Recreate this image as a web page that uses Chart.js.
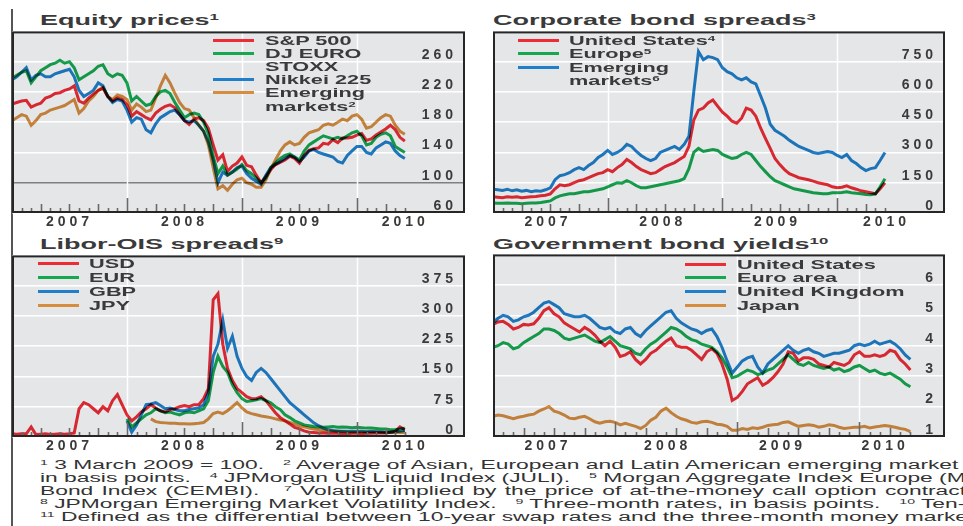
<!DOCTYPE html>
<html>
<head>
<meta charset="utf-8">
<title>Financial market indicators</title>
<script src="https://cdn.jsdelivr.net/npm/chart.js@4.4.1/dist/chart.umd.min.js"></script>
<style>
  body { margin: 0; width: 963px; height: 526px; overflow: hidden; position: relative; background: #fff;
         font-family: "Liberation Sans", Arial, sans-serif; color: #333; }
  canvas { position: absolute; }
  .txt { position: absolute; white-space: nowrap; transform-origin: 0 50%; }
  .title { font-size: 15px; font-weight: bold; line-height: 16px; transform: scaleX(1.8); color: #3a3a3a; }
  .leg { font-size: 13px; font-weight: bold; line-height: 13px; transform: scaleX(1.67); color: #3a3a3a; }
  .swatch { position: absolute; height: 3px; width: 41px; }
  .note { font-size: 12px; line-height: 13px; transform: scaleX(1.9); color: #333; }
  sup { font-size: 62%; line-height: 0; vertical-align: 0.5em; }
  #frame { position: absolute; left: 11px; top: 9px; width: 2px; height: 517px; background: #555; }
</style>
</head>
<body>
<div id="frame"></div>
<canvas id="equity" width="453" height="202" style="left:12px;top:31px"></canvas>
<canvas id="corporate" width="452" height="202" style="left:493px;top:31px"></canvas>
<canvas id="libor" width="453" height="202" style="left:12px;top:255px"></canvas>
<canvas id="govt" width="452" height="203" style="left:493px;top:254px"></canvas>

<div class="txt title" style="left:40px;top:12px">Equity prices<sup>1</sup></div>
<div class="txt title" style="left:493px;top:12px">Corporate bond spreads<sup>3</sup></div>
<div class="txt title" style="left:40px;top:236px">Libor-OIS spreads<sup>9</sup></div>
<div class="txt title" style="left:493px;top:236px">Government bond yields<sup>10</sup></div>

<div class="txt note" style="left:40px;top:459px"><sup>1</sup> 3 March 2009 = 100. &nbsp;&nbsp;<sup>2</sup> Average of Asian, European and Latin American emerging market equity indices.</div>
<div class="txt note" style="left:40px;top:472px">in basis points. &nbsp;&nbsp;<sup>4</sup> JPMorgan US Liquid Index (JULI). &nbsp;&nbsp;<sup>5</sup> Morgan Aggregate Index Europe (MAGGIE).</div>
<div class="txt note" style="left:40px;top:485px;word-spacing:1px">Bond Index (CEMBI). &nbsp;&nbsp;<sup>7</sup> Volatility implied by the price of at-the-money call option contracts.</div>
<div class="txt note" style="left:40px;top:498px"><sup>8</sup> JPMorgan Emerging Market Volatility Index. &nbsp;&nbsp;<sup>9</sup> Three-month rates, in basis points. &nbsp;&nbsp;<sup>10</sup> Ten-year, in per cent.</div>
<div class="txt note" style="left:40px;top:511px"><sup>11</sup> Defined as the differential between 10-year swap rates and the three-month money market rates.</div>

<script>
// observation dates: 1st and 16th of each month, Jan 2007 - Jun 2010
const dates = [];
for (let y = 2007; y <= 2010; y++) {
    for (let m = 1; m <= 12; m++) {
        for (const d of ['01', '16']) {
            const s = y + '-' + String(m).padStart(2, '0') + '-' + d;
            if (s <= '2010-06-01') dates.push(s);
        }
    }
}

// Equity prices, 3 March 2009 = 100
const sp500 = [
    204, 206, 208, 209, 200, 203, 205, 212, 214, 218, 219, 222, 224, 228, 208, 205, 212, 217, 222, 225, 214, 208, 212, 210,
    203, 188, 194, 190, 186, 183, 192, 197, 201, 203, 199, 190, 182, 177, 184, 186, 182, 172, 150, 130, 137, 115, 122, 126,
    134, 123, 121, 110, 100, 108, 117, 124, 127, 130, 135, 132, 126, 136, 143, 145, 146, 152, 151, 157, 153, 159, 159, 160,
    163, 165, 156, 158, 163, 167, 171, 176, 170, 160, 155
];
const euroStoxx = [
    238, 242, 246, 248, 232, 240, 248, 252, 256, 258, 262, 258, 260, 252, 236, 240, 244, 248, 254, 256, 244, 240, 244, 242,
    232, 208, 214, 208, 202, 204, 214, 220, 222, 218, 206, 196, 186, 190, 192, 190, 180, 165, 135, 112, 122, 110, 114, 118,
    124, 116, 112, 106, 100, 106, 120, 126, 132, 136, 138, 134, 130, 142, 150, 154, 158, 162, 160, 158, 160, 158, 162, 166,
    168, 162, 150, 152, 160, 164, 166, 162, 148, 144, 140
];
const nikkei = [
    236, 240, 246, 252, 236, 242, 244, 240, 240, 244, 246, 248, 250, 240, 222, 214, 218, 222, 232, 228, 214, 206, 210, 208,
    196, 180, 186, 184, 170, 166, 178, 186, 190, 194, 196, 190, 182, 180, 182, 176, 168, 154, 130, 100, 114, 110, 114, 120,
    122, 112, 106, 102, 98, 110, 120, 124, 128, 132, 136, 134, 128, 134, 142, 144, 140, 138, 136, 134, 128, 126, 136, 142,
    148, 148, 140, 138, 146, 150, 154, 152, 142, 136, 132
];
const emergingEq = [
    182, 186, 190, 188, 176, 182, 190, 192, 196, 198, 200, 202, 206, 210, 192, 198, 208, 214, 222, 226, 214, 210, 216, 214,
    210, 196, 204, 200, 194, 196, 212, 228, 242, 232, 218, 206, 198, 196, 186, 176, 168, 150, 120, 92, 96, 90, 98, 104,
    106, 100, 98, 94, 94, 104, 118, 130, 142, 150, 154, 150, 152, 160, 166, 168, 170, 176, 178, 176, 180, 184, 182, 188,
    190, 184, 172, 174, 180, 186, 190, 188, 176, 168, 164
];

// Corporate bond spreads, basis points
const corpUS = [
    80, 78, 76, 80, 78, 80, 76, 78, 80, 82, 85, 88,
    95, 120, 140, 135, 140, 150, 160, 165, 175, 185, 195, 200,
    215, 205, 225, 240, 265, 250, 230, 215, 205, 195, 200, 215,
    230, 240, 250, 265, 280, 330, 460, 510, 520, 545, 560, 530,
    500, 480, 455, 445, 470, 520, 510, 480, 420, 370, 320, 270,
    240, 215, 195, 185, 175, 170, 165, 158, 150, 145, 140, 130,
    125, 128, 135, 125, 118, 110, 105, 100, 95, 120, 150
];
const corpEurope = [
    50, 48, 48, 50, 48, 48, 46, 48, 50, 50, 52, 56,
    60, 75, 85, 90, 95, 95, 100, 105, 105, 110, 115, 120,
    130, 140, 150, 148, 160, 150, 135, 125, 125, 130, 135, 140,
    145, 150, 155, 160, 170, 220, 300, 320, 305, 310, 315, 310,
    290, 280, 270, 275, 290, 300, 290, 260, 230, 205, 180, 160,
    150, 140, 130, 120, 115, 110, 105, 100, 98, 95, 95, 100,
    100, 102, 105, 100, 98, 95, 92, 90, 95, 130, 170
];
const corpEM = [
    118, 115, 112, 118, 110, 115, 108, 112, 105, 110, 108, 115,
    125, 165, 185, 190, 200, 215, 225, 215, 235, 250, 275, 290,
    310, 290, 300, 315, 340, 330, 305, 285, 270, 260, 270, 300,
    310, 320, 330, 315, 340, 380, 600, 800, 760, 775, 770, 760,
    720, 700, 690, 670, 660, 670, 650, 640, 580, 520, 440, 410,
    395, 380, 360, 345, 330, 320, 310, 300, 295, 300, 305, 300,
    285, 275, 290, 260, 245, 225, 210, 220, 225, 260, 300
];

// Libor-OIS spreads, three-month, basis points
const usd = [
    8, 7, 8, 8, 25, 6, 7, 8, 6, 7, 8, 7,
    8, 10, 70, 85, 80, 70, 60, 75, 65, 90, 105, 80,
    55, 40, 50, 62, 70, 80, 72, 65, 62, 68, 70, 75,
    78, 75, 80, 80, 95, 120, 340, 355, 230, 170, 140, 120,
    110, 100, 95, 95, 100, 90, 75, 60, 48, 40, 32, 24,
    20, 15, 12, 11, 10, 10, 9, 9, 9, 8, 8, 9,
    9, 8, 9, 9, 10, 10, 10, 12, 14, 25, 18
];
const eur = [
    null, null, null, null, null, null, null, null, null, null, null, null,
    null, null, null, null, null, null, null, null, null, null, null, null,
    45, 25, 35, 45, 55, 60, 70, 65, 60, 62, 58, 55,
    60, 62, 60, 65, 70, 90, 160, 200, 175, 160, 130, 110,
    95, 88, 90, 92, 95, 90, 85, 75, 68, 55, 48, 40,
    35, 30, 28, 26, 25, 24, 25, 26, 24, 25, 24, 23,
    24, 23, 22, 22, 21, 20, 20, 18, 18, 20, 22
];
const gbp = [
    null, null, null, null, null, null, null, null, null, null, null, null,
    null, null, null, null, null, null, null, null, null, null, null, null,
    40, 12, 30, 55, 80, 82, 85, 78, 70, 72, 68, 65,
    65, 68, 70, 72, 80, 110, 200, 230, 290, 220, 250, 200,
    170, 150, 140, 160, 170, 160, 145, 130, 115, 100, 85, 75,
    65, 55, 45, 35, 28, 22, 18, 16, 15, 14, 14, 14,
    14, 14, 13, 14, 13, 13, 12, 12, 13, 14, 16
];
const jpy = [
    null, null, null, null, null, null, null, null, null, null, null, null,
    null, null, null, null, null, null, null, null, null, null, null, null,
    null, null, null, null, null, 45, 38, 36, 35, 34, 34, 33,
    33, 32, 33, 34, 36, 45, 58, 62, 58, 65, 75, 85,
    72, 62, 58, 55, 52, 50, 48, 45, 42, 40, 36, 32,
    28, 25, 22, 20, 18, 16, 15, 14, 13, 13, 12, 12,
    12, 12, 12, 12, 12, 11, 11, 11, 11, 11, 11
];

// Government bond yields, ten-year, per cent
const us10y = [
    4.70, 4.78, 4.80, 4.70, 4.55, 4.60, 4.70, 4.68, 4.72, 4.90, 5.15, 5.25, 5.05, 4.95, 4.75, 4.65, 4.55, 4.45, 4.60, 4.50, 4.35, 4.15, 4.00, 4.15,
    3.95, 3.65, 3.70, 3.80, 3.55, 3.40, 3.55, 3.75, 3.85, 4.00, 4.15, 4.25, 4.00, 3.95, 3.95, 3.85, 3.70, 3.55, 3.80, 3.90, 3.75, 3.40, 2.90, 2.20,
    2.30, 2.50, 2.75, 2.85, 2.95, 2.70, 2.80, 2.95, 3.15, 3.40, 3.80, 3.75, 3.50, 3.60, 3.60, 3.55, 3.40, 3.35, 3.30, 3.45, 3.40, 3.35, 3.45, 3.70,
    3.80, 3.65, 3.65, 3.70, 3.65, 3.70, 3.85, 3.80, 3.55, 3.40, 3.20
];
const euro10y = [
    3.95, 4.00, 4.10, 4.05, 3.90, 3.95, 4.10, 4.20, 4.30, 4.40, 4.55, 4.55, 4.50, 4.40, 4.25, 4.20, 4.25, 4.30, 4.35, 4.25, 4.15, 4.10, 4.20, 4.30,
    4.15, 4.00, 3.95, 3.90, 3.75, 3.70, 3.90, 4.05, 4.15, 4.30, 4.45, 4.60, 4.55, 4.45, 4.30, 4.20, 4.15, 4.05, 4.00, 3.95, 3.80, 3.60, 3.30, 2.95,
    3.00, 3.10, 3.20, 3.15, 3.05, 3.10, 3.20, 3.25, 3.40, 3.55, 3.70, 3.55, 3.40, 3.35, 3.45, 3.35, 3.30, 3.25, 3.30, 3.20, 3.25, 3.15, 3.20, 3.30,
    3.35, 3.25, 3.15, 3.20, 3.10, 3.05, 3.10, 3.00, 2.90, 2.75, 2.65
];
const uk10y = [
    4.75, 4.90, 5.00, 4.95, 4.80, 4.85, 4.95, 5.00, 5.10, 5.25, 5.40, 5.45, 5.35, 5.25, 5.05, 5.00, 4.95, 4.95, 5.00, 4.90, 4.75, 4.60, 4.55, 4.60,
    4.45, 4.40, 4.55, 4.60, 4.40, 4.30, 4.50, 4.65, 4.80, 4.95, 5.10, 5.15, 4.90, 4.75, 4.65, 4.55, 4.50, 4.40, 4.50, 4.55, 4.30, 3.95, 3.50, 3.10,
    3.30, 3.50, 3.60, 3.65, 3.30, 3.10, 3.40, 3.55, 3.70, 3.85, 4.00, 3.85, 3.75, 3.85, 3.90, 3.80, 3.75, 3.65, 3.70, 3.75, 3.75, 3.80, 3.85, 4.00,
    4.05, 4.00, 4.05, 4.15, 4.05, 4.10, 4.15, 4.05, 3.90, 3.70, 3.55
];
const jp10y = [
    1.68, 1.72, 1.70, 1.65, 1.60, 1.65, 1.68, 1.72, 1.75, 1.85, 1.92, 2.00, 1.85, 1.80, 1.72, 1.62, 1.60, 1.65, 1.68, 1.60, 1.50, 1.45, 1.50, 1.52,
    1.48, 1.40, 1.45, 1.40, 1.35, 1.28, 1.38, 1.55, 1.65, 1.85, 1.95, 1.80, 1.68, 1.60, 1.55, 1.48, 1.45, 1.50, 1.52, 1.48, 1.42, 1.40, 1.35, 1.22,
    1.22, 1.28, 1.25, 1.30, 1.28, 1.32, 1.38, 1.40, 1.42, 1.48, 1.50, 1.42, 1.35, 1.38, 1.40, 1.38, 1.32, 1.35, 1.40, 1.38, 1.32, 1.28, 1.30, 1.32,
    1.32, 1.35, 1.30, 1.33, 1.35, 1.38, 1.35, 1.32, 1.28, 1.25, 1.18
];

// y-axis ticks (last one of each range is left unlabelled)
const equityTicks = [60, 100, 140, 180, 220, 260, 300];
const corporateTicks = [0, 150, 300, 450, 600, 750, 900];
const liborTicks = [0, 75, 150, 225, 300, 375, 450];
const govtTicks = [1, 2, 3, 4, 5, 6, 7];

const RED = '#ee2c36', GREEN = '#16a84f', BLUE = '#1f7fcb', ORANGE = '#d68d3f';

function yearFrac(s) {
    const [y, m, d] = s.split('-').map(Number);
    return y + (m - 1) / 12 + (d - 1) / 365;
}

// monthly tick marks along the bottom edge, taller at quarters and years
const monthTicks = [];
for (let y = 2007; y <= 2010; y++) {
    for (let m = 0; m < 12; m++) {
        const v = y + m / 12;
        if (v > 2007 && v < 2010.45) monthTicks.push({ value: v, len: m === 0 ? 15 : (m % 3 === 0 ? 9 : 5) });
    }
}

const panelPlugin = {
    id: 'panelDecor',
    beforeDraw(chart) {
        const { ctx, chartArea: a } = chart;
        ctx.save();
        ctx.fillStyle = '#e5e6e8';
        ctx.fillRect(a.left, a.top, a.width, a.height);
        ctx.restore();
        ctx.letterSpacing = '4px';
    },
    beforeDatasetsDraw(chart) {
        const { ctx, chartArea: a, scales: { x } } = chart;
        ctx.save();
        ctx.strokeStyle = '#ffffff';
        ctx.lineWidth = 1.5;
        [2008, 2009, 2010].forEach((yr) => {
            const px = Math.round(x.getPixelForValue(yr)) + 0.5;
            ctx.beginPath();
            ctx.moveTo(px, a.top);
            ctx.lineTo(px, a.bottom);
            ctx.stroke();
        });
        ctx.restore();
        // overlapping lines darken each other, as in the printed chart
        ctx.save();
        ctx.globalCompositeOperation = 'multiply';
    },
    afterDatasetsDraw(chart) {
        const { ctx, chartArea: a, scales: { x } } = chart;
        ctx.restore();
        ctx.save();
        ctx.strokeStyle = '#6a6a6a';
        ctx.lineWidth = 1.6;
        monthTicks.forEach((t) => {
            const px = Math.round(x.getPixelForValue(t.value)) + 0.5;
            ctx.beginPath();
            ctx.moveTo(px, a.bottom);
            ctx.lineTo(px, a.bottom - t.len);
            ctx.stroke();
        });
        ctx.strokeStyle = '#262626';
        ctx.lineWidth = 2;
        ctx.strokeRect(a.left + 1, a.top + 1, a.width - 2, a.height - 2);
        ctx.restore();
    },
    afterDraw(chart) {
        chart.ctx.letterSpacing = '0px';
    }
};

function makePanel(id, cfg) {
    const ticks = cfg.yTicks;
    const yMin = ticks[0], yMax = ticks[ticks.length - 1];
    new Chart(document.getElementById(id), {
        type: 'line',
        data: {
            datasets: cfg.series.map((s) => ({
                label: s.name,
                data: s.values.map((v, i) => ({ x: yearFrac(dates[i]), y: v })),
                borderColor: s.color,
                borderWidth: 3,
                pointRadius: 0,
                tension: 0,
                spanGaps: false
            }))
        },
        options: {
            responsive: false,
            animation: false,
            devicePixelRatio: 1,
            layout: { padding: 0, autoPadding: false },
            plugins: { legend: { display: false }, tooltip: { enabled: false } },
            scales: {
                x: {
                    type: 'linear',
                    min: 2007,
                    max: cfg.xMax,
                    afterFit: (s) => { s.height = 20; },
                    afterBuildTicks: (s) => { s.ticks = cfg.yearLabels.map((v) => ({ value: v })); },
                    grid: { display: false, drawTicks: false },
                    border: { display: false },
                    ticks: {
                        autoSkip: false,
                        maxRotation: 0,
                        padding: 1,
                        color: '#3a3a3a',
                        font: { family: 'Liberation Sans', size: 14, weight: 'bold' },
                        callback: (v) => String(Math.floor(v))
                    }
                },
                y: {
                    position: 'right',
                    min: yMin,
                    max: yMax,
                    afterFit: (s) => { s.width = 0; },
                    afterBuildTicks: (s) => { s.ticks = ticks.map((v) => ({ value: v })); },
                    border: { display: false },
                    grid: {
                        drawTicks: false,
                        lineWidth: 1.5,
                        color: (c) => (c.tick && c.tick.value === cfg.baseLine ? '#808080' : '#ffffff')
                    },
                    ticks: {
                        mirror: true,
                        padding: -8,
                        labelOffset: -7,
                        color: '#3a3a3a',
                        font: { family: 'Liberation Sans', size: 14, weight: 'bold' },
                        callback: (v) => (v === yMax ? '' : String(v))
                    }
                }
            }
        },
        plugins: [panelPlugin]
    });
}

function makeLegend(items, lineX, textX, firstY, rowH) {
    let y = firstY;
    items.forEach((it) => {
        const sw = document.createElement('div');
        sw.className = 'swatch';
        sw.style.left = lineX + 'px';
        sw.style.top = (y - 1.5) + 'px';
        sw.style.background = it.color;
        document.body.appendChild(sw);
        it.lines.forEach((ln, k) => {
            const d = document.createElement('div');
            d.className = 'txt leg';
            d.style.left = textX + 'px';
            d.style.top = (y - 6.5) + 'px';
            d.textContent = ln;
            if (k === it.lines.length - 1 && it.note) {
                const sup = document.createElement('sup');
                sup.textContent = it.note;
                d.appendChild(sup);
            }
            document.body.appendChild(d);
            y += rowH;
        });
    });
}

const equitySeries = [
    { name: 'Emerging markets', values: emergingEq, color: ORANGE },
    { name: 'Nikkei 225', values: nikkei, color: BLUE },
    { name: 'DJ EURO STOXX', values: euroStoxx, color: GREEN },
    { name: 'S&P 500', values: sp500, color: RED }
];
const corporateSeries = [
    { name: 'Emerging markets', values: corpEM, color: BLUE },
    { name: 'Europe', values: corpEurope, color: GREEN },
    { name: 'United States', values: corpUS, color: RED }
];
const liborSeries = [
    { name: 'JPY', values: jpy, color: ORANGE },
    { name: 'GBP', values: gbp, color: BLUE },
    { name: 'EUR', values: eur, color: GREEN },
    { name: 'USD', values: usd, color: RED }
];
const govtSeries = [
    { name: 'Japan', values: jp10y, color: ORANGE },
    { name: 'United Kingdom', values: uk10y, color: BLUE },
    { name: 'Euro area', values: euro10y, color: GREEN },
    { name: 'United States', values: us10y, color: RED }
];

makePanel('equity', { series: equitySeries, yTicks: equityTicks, baseLine: 100, xMax: 2010.94, yearLabels: [2007.5, 2008.5, 2009.5, 2010.42] });
makePanel('corporate', { series: corporateSeries, yTicks: corporateTicks, baseLine: null, xMax: 2010.94, yearLabels: [2007.48, 2008.48, 2009.48, 2010.43] });
makePanel('libor', { series: liborSeries, yTicks: liborTicks, baseLine: null, xMax: 2010.94, yearLabels: [2007.5, 2008.5, 2009.5, 2010.42] });
makePanel('govt', { series: govtSeries, yTicks: govtTicks, baseLine: null, xMax: 2010.70, yearLabels: [2007.45, 2008.43, 2009.37, 2010.21] });

makeLegend([
    { lines: ['S&P 500'], color: RED },
    { lines: ['DJ EURO', 'STOXX'], color: GREEN },
    { lines: ['Nikkei 225'], color: BLUE },
    { lines: ['Emerging', 'markets'], note: '2', color: ORANGE }
], 213, 265, 40, 13.2);
makeLegend([
    { lines: ['United States'], note: '4', color: RED },
    { lines: ['Europe'], note: '5', color: GREEN },
    { lines: ['Emerging', 'markets'], note: '6', color: BLUE }
], 518, 569, 40, 13.5);
makeLegend([
    { lines: ['USD'], color: RED },
    { lines: ['EUR'], color: GREEN },
    { lines: ['GBP'], color: BLUE },
    { lines: ['JPY'], color: ORANGE }
], 38, 89, 263, 14);
makeLegend([
    { lines: ['United States'], color: RED },
    { lines: ['Euro area'], color: GREEN },
    { lines: ['United Kingdom'], color: BLUE },
    { lines: ['Japan'], color: ORANGE }
], 685, 737, 264, 13.7);
</script>
</body>
</html>
